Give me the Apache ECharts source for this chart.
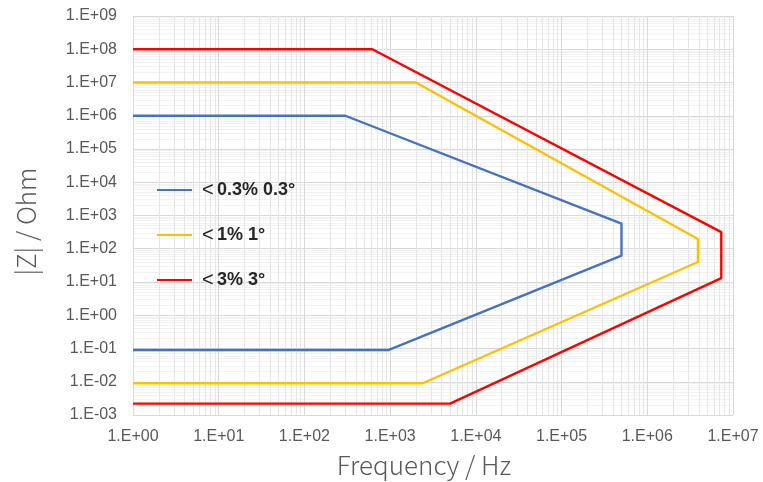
<!DOCTYPE html>
<html>
<head>
<meta charset="utf-8">
<script src="https://cdn.jsdelivr.net/npm/echarts@6/dist/echarts.min.js"></script>
<style>html,body{margin:0;padding:0;background:#fff}#c{width:763px;height:482px}</style>
</head>
<body>
<div id="c"></div>
<script>
// Series names
const seriesNames = ['< 0.3% 0.3°', '< 1% 1°', '< 3% 3°'];
// Blue (0.3%) boundary
const blueFreq = [1, 300, 5.0e5, 5.0e5, 950, 1];
const blueZ    = [1e6, 1e6, 570, 62, 0.09, 0.09];
// Yellow (1%) boundary
const yellowFreq = [1, 2000, 3.9e6, 3.9e6, 2400, 1];
const yellowZ    = [1e7, 1e7, 196, 40, 0.009, 0.009];
// Red (3%) boundary
const redFreq = [1, 620, 7.3e6, 7.3e6, 5000, 1];
const redZ    = [1e8, 1e8, 315, 13, 0.0022, 0.0022];
const colors = ['#4472C4', '#FFC000', '#FF0000'];

function fmt(v){
  const e = Math.round(Math.log10(v));
  const a = Math.abs(e);
  return '1.E' + (e < 0 ? '-' : '+') + (a < 10 ? '0' + a : a);
}
function pairs(xs, ys){ return xs.map((x,i)=>[x, ys[i]]); }
const allData = [pairs(blueFreq, blueZ), pairs(yellowFreq, yellowZ), pairs(redFreq, redZ)];

const chart = echarts.init(document.getElementById('c'), null, {renderer:'canvas'});
const axisLabelStyle = {color:'#595959', fontSize:16, fontFamily:'Liberation Sans, Arial, sans-serif'};
const titleStyle = {color:'#595959', fontSize:26, fontFamily:'Noto Sans CJK JP, sans-serif', fontWeight:300};
chart.setOption({
  animation:false,
  grid:{left:133, right:30, top:16, bottom:67, containLabel:false, outerBoundsMode:'none'},
  legend:{
    orient:'vertical', left:152, top:175, itemGap:25,
    itemWidth:35, itemHeight:16,
    data:seriesNames.map(n=>({name:n, icon:'path://M0,7 L35,7 L35,9 L0,9 Z'})),
    formatter: n => '{a|<} {b|' + n.slice(2) + '}',
    textStyle:{
      rich:{
        a:{fontSize:20, color:'#262626', padding:[0,0,0,5], fontFamily:'Liberation Sans, Arial, sans-serif'},
        b:{fontSize:18, fontWeight:'bold', color:'#262626', fontFamily:'Liberation Sans, Arial, sans-serif'}
      }
    }
  },
  xAxis:{
    type:'log', logBase:10, min:1, max:1e7, interval:1,
    name:'Frequency / Hz', nameLocation:'middle', nameGap:37,
    nameTextStyle:Object.assign({padding:[0,18,0,0]}, titleStyle),
    axisLine:{show:false}, axisTick:{show:false},
    axisLabel:Object.assign({formatter:fmt, margin:14}, axisLabelStyle),
    splitLine:{show:true, lineStyle:{color:'#d9d9d9', width:1}},
    minorTick:{show:false, splitNumber:9},
    minorSplitLine:{show:true, lineStyle:{color:'#e6e6e6', width:1}}
  },
  yAxis:{
    type:'log', logBase:10, min:1e-3, max:1e9, interval:1,
    name:'|Z| / Ohm', nameLocation:'middle', nameGap:94,
    nameTextStyle:Object.assign({padding:[0,12,0,0]}, titleStyle),
    axisLine:{show:false}, axisTick:{show:false},
    axisLabel:Object.assign({formatter:fmt, margin:16}, axisLabelStyle),
    splitLine:{show:true, lineStyle:{color:'#d9d9d9', width:1}},
    minorTick:{show:false, splitNumber:9},
    minorSplitLine:{show:true, lineStyle:{color:'#f2f2f2', width:1}}
  },
  series: allData.map((d,i)=>({
    name:seriesNames[i], type:'line', data:d, symbol:'none',
    lineStyle:{color:colors[i], width:2.4}, itemStyle:{color:colors[i]}
  }))
});
</script>
</body>
</html>
